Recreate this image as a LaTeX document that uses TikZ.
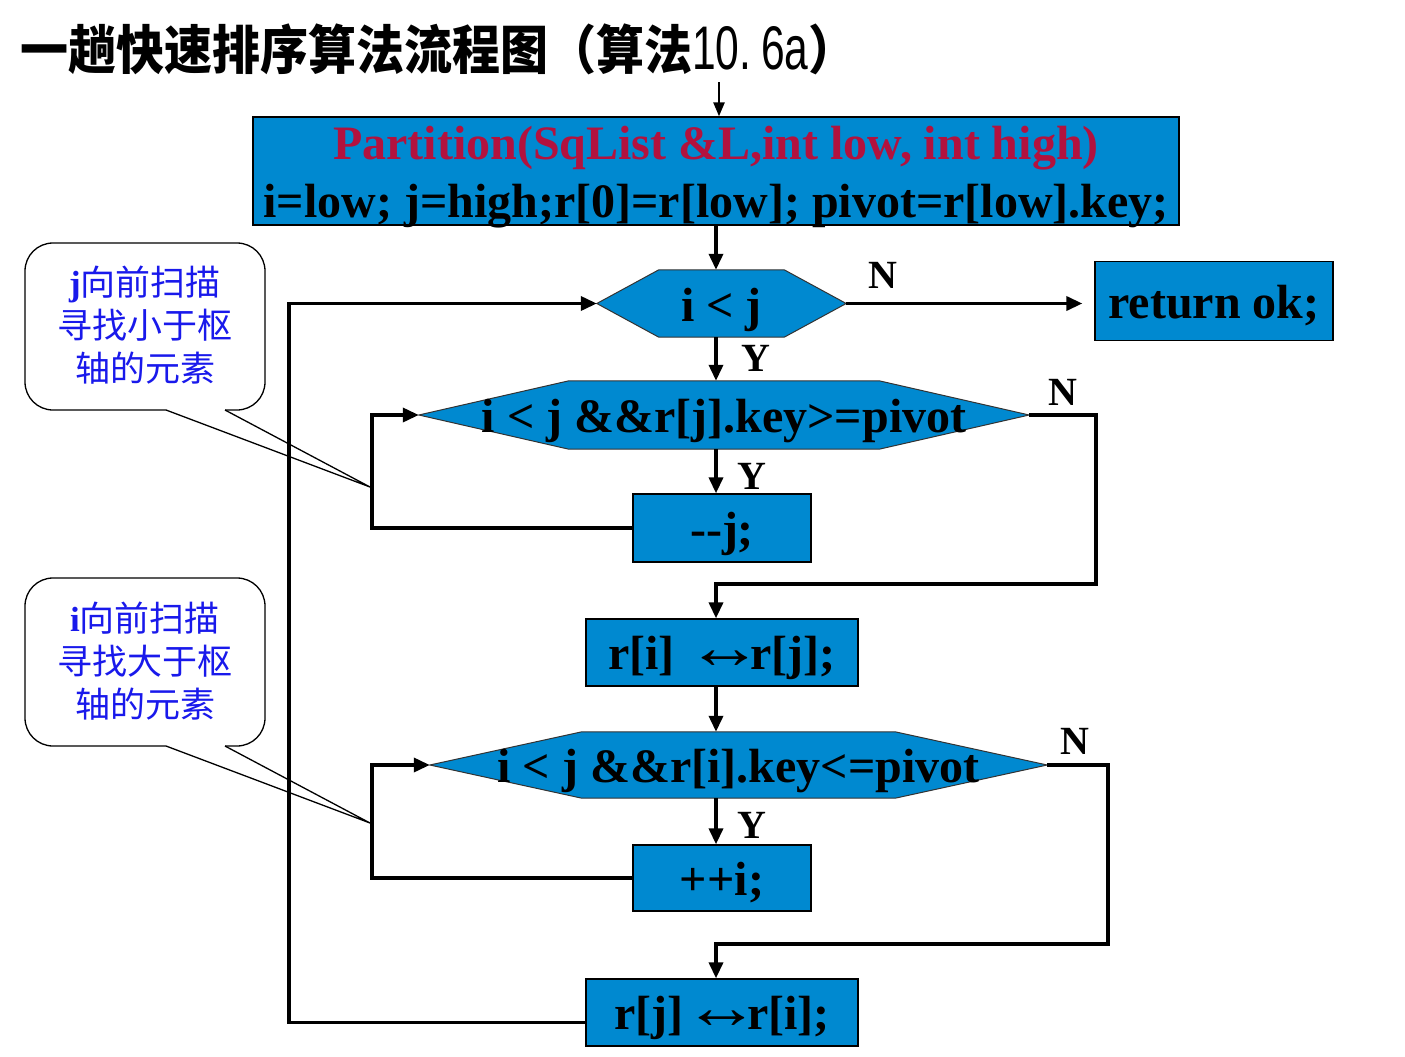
\documentclass[tikz,border=0pt]{standalone}
\usepackage{fontspec}
\setmainfont{Liberation Serif}
\newfontfamily\cjk{Noto Sans CJK SC}
\newfontfamily\lsans{Liberation Sans}
\usetikzlibrary{arrows.meta,backgrounds,calc}
\definecolor{boxblue}{RGB}{0,137,208}
\definecolor{titlered}{RGB}{178,18,62}
\definecolor{noteblue}{RGB}{25,25,235}
\newcommand\hexpath[2]{\filldraw[hexbg] (#1.west) -- ([xshift=#2]#1.north west) -- ([xshift=-#2]#1.north east) -- (#1.east) -- ([xshift=-#2]#1.south east) -- ([xshift=#2]#1.south west) -- cycle;}
\newcommand\swaparrow{\hspace{-12pt}\raisebox{1pt}{\scalebox{1.6}[1.3]{↔}}\hspace{-13pt}}
\tikzset{
  proc/.style={draw=black, line width=1.3pt, fill=boxblue, inner sep=0pt, align=center,
    font=\fontsize{48}{57}\selectfont\bfseries, text=black},
  oneline/.style={text height=40pt, text depth=6pt},
  hexnode/.style={inner sep=0pt, font=\fontsize{48}{57}\selectfont\bfseries, text=black, text height=40pt, text depth=5pt},
  hexbg/.style={draw=black!80, line width=1pt, fill=boxblue},
  conn/.style={line width=3.5pt, -{Triangle[length=16pt,width=14pt]}},
  thinconn/.style={line width=2.5pt, -{Triangle[length=14pt,width=11pt]}},
  yn/.style={font=\fontsize{40}{40}\selectfont\bfseries, inner sep=0pt},
  note/.style={text=noteblue, font=\fontsize{35}{43}\selectfont\cjk, align=center, inner sep=0pt},
  notebox/.style={draw=black, line width=1.3pt, rounded corners=28pt},
  noteptr/.style={draw=black, line width=1.3pt},
}
\begin{document}
\begin{tikzpicture}[x=1pt,y=-1pt]
\useasboundingbox (0,0) rectangle (1405,1057);

% title
\node[anchor=west, inner sep=0pt, font=\cjk\bfseries\fontsize{48}{48}\selectfont] (title) at (20,49)
  {\scalebox{1}[1.1]{一趟快速排序算法流程图（算法{\lsans\mdseries\fontsize{56}{56}\selectfont\scalebox{0.76}[1]{10.\hspace{13pt}6a}}）}};

% helper coordinates
\coordinate (spine) at (716,0);
\coordinate (start) at (719,82);
\coordinate (loopi) at (372,0);
\coordinate (loopo) at (289,0);
\coordinate (n2) at (1096,584);
\coordinate (n3) at (1108,944);

% process boxes
\node[proc, minimum width=926, minimum height=108] (part) at (716,171)
  {\raisebox{-12pt}[50pt][50pt]{\begin{tabular}{@{}c@{}}\textcolor{titlered}{Partition(SqList \&L,int low, int high)}\\[1pt]i=low; j=high;r[0]=r[low]; pivot=r[low].key;\end{tabular}}};
\node[proc, oneline, minimum width=238, minimum height=79] (ret) at (1214,301) {return ok;};
\node[proc, oneline, minimum width=178, minimum height=68] (dj) at (722,528) {{-}{-}j;};
\node[proc, oneline, minimum width=272, minimum height=67] (ri) at (722,652.5) {r[i]\ \ \swaparrow r[j];};
\node[proc, oneline, minimum width=178, minimum height=66] (pi) at (722,878) {++i;};
\node[proc, oneline, minimum width=272, minimum height=67] (rj) at (722,1012.5) {r[j] \swaparrow r[i];};

% decisions
\node[hexnode, minimum width=249, minimum height=67] (h1) at (721.5,303.5) {i < j};
\node[hexnode, minimum width=610, minimum height=68] (h2) at (724,415) {i < j \&\&r[j].key>=pivot};
\node[hexnode, minimum width=617, minimum height=66] (h3) at (738.5,765) {i < j \&\&r[i].key<=pivot};
\begin{scope}[on background layer]
  \hexpath{h1}{62pt}
  \hexpath{h2}{150pt}
  \hexpath{h3}{152pt}
\end{scope}

% Y / N labels
\node[yn] (y1) at (756,358) {Y};
\node[yn] (y2) at (752,476) {Y};
\node[yn] (y3) at (752,825) {Y};
\node[yn] (nn1) at (883,275) {N};
\node[yn] (nn2) at (1063,392) {N};
\node[yn] (nn3) at (1075,741) {N};

% connectors
\draw[thinconn] (start) -- (start |- part.north);
\draw[conn] (part.south -| spine) -- (h1.north -| spine);
\draw[conn, shorten >=12pt] (h1.east) -- (h1.east -| ret.west);
\draw[conn] (h1.south -| spine) -- (h2.north -| spine);
\draw[conn] (h2.south -| spine) -- (dj.north -| spine);
\draw[conn] (dj.west) -| (loopi |- h2.west) -- (h2.west);
\draw[conn] (h2.east) -| (n2) -| (ri.north -| spine);
\draw[conn] (ri.south -| spine) -- (h3.north -| spine);
\draw[conn] (h3.south -| spine) -- (pi.north -| spine);
\draw[conn] (pi.west) -| (loopi |- h3.west) -- (h3.west);
\draw[conn] (h3.east) -| (n3) -| (rj.north -| spine);
\draw[conn] ([yshift=-10pt]rj.west) -| (loopo |- h1.west) -- (h1.west);

% callout 1
\node[note] (note1) at (145,325) {{\normalfont\bfseries j}向前扫描\\寻找小于枢\\轴的元素};
\draw[notebox] (225,410) -- (265,410) -- (265,243) -- (25,243) -- (25,410) -- (166,410);
\coordinate (tip1) at (370,487);
\draw[noteptr] (166,410) -- (tip1) -- (225,410);

% callout 2
\node[note] (note2) at (145,661) {{\normalfont\bfseries i}向前扫描\\寻找大于枢\\轴的元素};
\draw[notebox] (225,746) -- (265,746) -- (265,578) -- (25,578) -- (25,746) -- (166,746);
\coordinate (tip2) at (370,823);
\draw[noteptr] (166,746) -- (tip2) -- (225,746);
\end{tikzpicture}
\end{document}
